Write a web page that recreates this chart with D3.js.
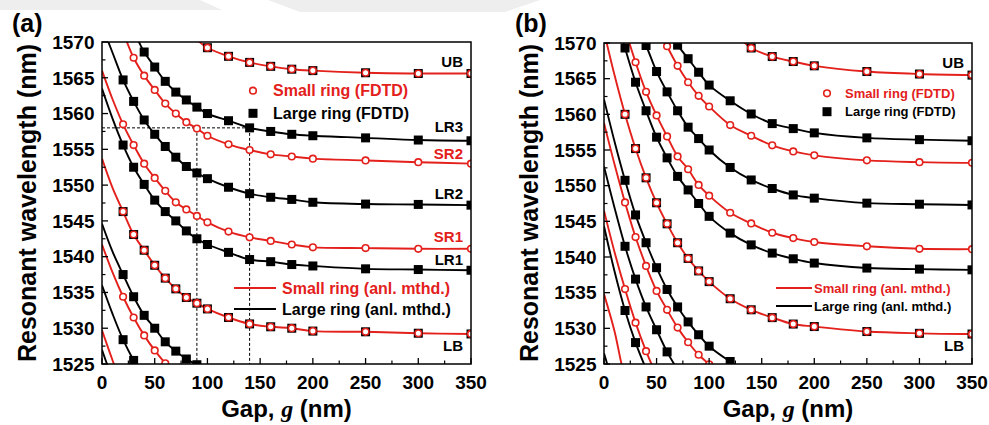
<!DOCTYPE html>
<html><head><meta charset="utf-8">
<script src="https://cdn.jsdelivr.net/npm/d3@7"></script>
<style>
body{margin:0;background:#fff}
svg{display:block}
text{font-family:"Liberation Sans",Arial,sans-serif;font-weight:bold}
</style>
</head><body>
<svg id="chart" width="989" height="425"></svg>
<script>
const RED = "#e3201b";
const xTicks = [0, 50, 100, 150, 200, 250, 300, 350];
const yTicks = [1525, 1530, 1535, 1540, 1545, 1550, 1555, 1560, 1565, 1570];
const xLabel = "Gap, ";
const yLabel = "Resonant wavelength (nm)";

// ---- Panel (a) ----  [gap nm, wavelength nm]
const a_UB_head = [[80, 1571.6], [90, 1570.3]];
const a_UB_pts = [[100, 1569.2], [120, 1568.0], [140, 1567.15], [160, 1566.6], [180, 1566.2], [200, 1566.0], [250, 1565.7], [300, 1565.6], [350, 1565.6]];
const a_LR3_head = [[30, 1571.3], [35, 1570.0]];
const a_LR3_pts = [[40, 1568.6], [50, 1566.5], [60, 1564.5], [70, 1563.0], [80, 1561.9], [90, 1560.9], [100, 1560.0], [120, 1559.0], [140, 1558.0], [160, 1557.5], [180, 1557.1], [200, 1556.9], [250, 1556.6], [300, 1556.3], [350, 1556.2]];
const a_SR2_head = [[20, 1571.4]];
const a_SR2_pts = [[30, 1567.8], [40, 1565.3], [50, 1563.3], [60, 1561.4], [70, 1560.0], [80, 1558.8], [90, 1557.9], [100, 1556.9], [120, 1555.7], [140, 1554.9], [160, 1554.3], [180, 1554.0], [200, 1553.7], [250, 1553.45], [300, 1553.2], [350, 1553.0]];
const a_LR2_head = [[0, 1572.3], [10, 1568.5]];
const a_LR2_pts = [[20, 1564.7], [30, 1561.7], [40, 1559.1], [50, 1557.1], [60, 1555.4], [70, 1553.9], [80, 1552.6], [90, 1551.7], [100, 1550.9], [120, 1549.7], [140, 1548.8], [160, 1548.3], [180, 1548.0], [200, 1547.6], [250, 1547.35], [300, 1547.3], [350, 1547.2]];
const a_SR1_head = [[0, 1566.0], [10, 1562.0]];
const a_SR1_pts = [[20, 1558.5], [30, 1555.6], [40, 1553.0], [50, 1551.0], [60, 1549.2], [70, 1547.6], [80, 1546.6], [90, 1545.7], [100, 1544.8], [120, 1543.5], [140, 1542.7], [160, 1542.2], [180, 1541.7], [200, 1541.3], [250, 1541.2], [300, 1541.1], [350, 1541.1]];
const a_LR1_head = [[0, 1563.5], [10, 1559.3]];
const a_LR1_pts = [[20, 1555.6], [30, 1552.5], [40, 1550.1], [50, 1547.9], [60, 1546.3], [70, 1545.0], [80, 1543.6], [90, 1542.5], [100, 1541.7], [120, 1540.6], [140, 1539.6], [160, 1539.3], [180, 1538.9], [200, 1538.7], [250, 1538.3], [300, 1538.2], [350, 1538.1]];
const a_LB_head = [[0, 1553.7], [10, 1549.6]];
const a_LB_pts = [[20, 1546.3], [30, 1543.1], [40, 1540.9], [50, 1538.8], [60, 1537.0], [70, 1535.5], [80, 1534.3], [90, 1533.5], [100, 1532.7], [120, 1531.5], [140, 1530.6], [160, 1530.2], [180, 1530.0], [200, 1529.6], [250, 1529.5], [300, 1529.3], [350, 1529.2]];
const a_L0_head = [[0, 1544.6], [10, 1540.7]];
const a_L0_pts = [[20, 1537.5], [30, 1534.4], [40, 1531.8], [50, 1530.0], [60, 1528.1], [70, 1526.8], [80, 1525.7], [90, 1524.9]];
const a_L0_tail = [[100, 1524.0]];
const a_S0_head = [[0, 1541.7], [10, 1537.8]];
const a_S0_pts = [[20, 1534.4], [30, 1531.5], [40, 1529.0], [50, 1526.9], [60, 1525.1]];
const a_S0_tail = [[70, 1523.5]];
const a_L1_head = [[0, 1536.0], [10, 1532.0]];
const a_L1_pts = [[20, 1528.4], [30, 1525.5]];
const a_L1_tail = [[40, 1523.0]];
const a_S1_line = [[0, 1529.7], [11, 1525.1], [20, 1521.5]];
const a_L2_line = [[0, 1527.0], [4.5, 1525.1], [10, 1523.0]];
const a_curveLabels = [["UB", 1567.25, "k"], ["LR3", 1558.15, "k"], ["SR2", 1554.45, "r"], ["LR2", 1548.75, "k"], ["SR1", 1542.8, "r"], ["LR1", 1539.55, "k"], ["LB", 1527.56, "k"]];

// ---- Panel (b) ----
const b_UB_head = [[120, 1571.5], [134, 1570.0]];
const b_UB_pts = [[140, 1569.3], [160, 1568.1], [180, 1567.4], [200, 1566.8], [250, 1566.0], [300, 1565.65], [350, 1565.5]];
const b_LR3_head = [[60, 1571.8]];
const b_LR3_pts = [[70, 1569.7], [80, 1567.8], [90, 1565.9], [100, 1564.1], [120, 1561.9], [140, 1560.05], [160, 1558.7], [180, 1558.0], [200, 1557.4], [250, 1556.7], [300, 1556.45], [350, 1556.3]];
const b_SR2_head = [[50, 1572.6]];
const b_SR2_pts = [[60, 1569.55], [70, 1566.8], [80, 1564.5], [90, 1562.6], [100, 1561.1], [120, 1558.5], [140, 1557.0], [160, 1555.65], [180, 1554.8], [200, 1554.25], [250, 1553.55], [300, 1553.3], [350, 1553.2]];
const b_LR2_head = [[30, 1572.8]];
const b_LR2_pts = [[40, 1569.65], [50, 1566.0], [60, 1563.15], [70, 1560.5], [80, 1558.2], [90, 1556.6], [100, 1555.0], [120, 1552.55], [140, 1550.8], [160, 1549.6], [180, 1548.7], [200, 1548.25], [250, 1547.55], [300, 1547.4], [350, 1547.3]];
const b_SR1_head = [[20, 1572.0]];
const b_SR1_pts = [[30, 1567.3], [40, 1563.15], [50, 1559.85], [60, 1556.9], [70, 1554.1], [80, 1552.3], [90, 1550.1], [100, 1548.6], [120, 1546.2], [140, 1544.7], [160, 1543.4], [180, 1542.65], [200, 1542.1], [250, 1541.5], [300, 1541.15], [350, 1541.1]];
const b_LR1_head = [[10, 1574.5]];
const b_LR1_pts = [[20, 1569.3], [30, 1564.5], [40, 1560.5], [50, 1556.8], [60, 1553.9], [70, 1551.3], [80, 1549.4], [90, 1547.5], [100, 1545.7], [120, 1543.35], [140, 1541.7], [160, 1540.55], [180, 1539.75], [200, 1539.15], [250, 1538.45], [300, 1538.3], [350, 1538.2]];
const b_LB_head = [[0, 1571.6], [10, 1565.5]];
const b_LB_pts = [[20, 1560.0], [30, 1555.2], [40, 1551.1], [50, 1547.6], [60, 1544.65], [70, 1542.0], [80, 1539.8], [90, 1538.05], [100, 1536.55], [120, 1534.15], [140, 1532.6], [160, 1531.5], [180, 1530.6], [200, 1530.25], [250, 1529.55], [300, 1529.3], [350, 1529.2]];
const b_L0_head = [[0, 1562.1], [10, 1556.2]];
const b_L0_pts = [[20, 1550.75], [30, 1545.9], [40, 1542.0], [50, 1538.5], [60, 1535.45], [70, 1533.0], [80, 1530.9], [90, 1529.1], [100, 1527.5], [120, 1525.35]];
const b_L0_tail = [[140, 1523.6]];
const b_S0_head = [[0, 1558.8], [10, 1553.0]];
const b_S0_pts = [[20, 1547.65], [30, 1542.8], [40, 1538.75], [50, 1535.25], [60, 1532.6], [70, 1530.1], [80, 1528.05], [90, 1526.3], [100, 1524.95]];
const b_S0_tail = [[110, 1523.5]];
const b_L1_head = [[0, 1552.7], [10, 1546.9]];
const b_L1_pts = [[20, 1541.5], [30, 1536.9], [40, 1533.0], [50, 1529.8], [60, 1526.7]];
const b_L1_tail = [[70, 1524.2]];
const b_S1_head = [[0, 1546.5], [10, 1540.7]];
const b_S1_pts = [[20, 1535.5], [30, 1530.8], [40, 1526.8]];
const b_S1_tail = [[50, 1523.4]];
const b_L2_head = [[0, 1544.3], [10, 1538.0]];
const b_L2_pts = [[20, 1532.5], [30, 1528.0]];
const b_L2_tail = [[40, 1524.3]];
const b_S2_line = [[0, 1534.8], [10, 1529.6], [16.5, 1525.1], [25, 1520.0]];
const b_L3_line = [[0, 1526.5], [3, 1525.0], [8, 1522.0]];
const b_curveLabels = [["UB", 1567.24, "k"], ["LB", 1527.57, "k"]];

const legendFDTD = ["Small ring (FDTD)", "Large ring (FDTD)"];
const legendAnl = ["Small ring (anl. mthd.)", "Large ring (anl. mthd.)"];

function C(color, mark, head, pts, tail) { return {color, mark, head: head || [], pts: pts || [], tail: tail || []}; }

const panels = [
  {
    id: "a", x0: 102, x1: 471, y0: 42, y1: 364, tag: "(a)", tagX: 12,
    curves: [
      C("r", "both", a_UB_head, a_UB_pts), C("k", "sq", a_LR3_head, a_LR3_pts), C("r", "ci", a_SR2_head, a_SR2_pts),
      C("k", "sq", a_LR2_head, a_LR2_pts), C("r", "ci", a_SR1_head, a_SR1_pts), C("k", "sq", a_LR1_head, a_LR1_pts),
      C("r", "both", a_LB_head, a_LB_pts), C("k", "sq", a_L0_head, a_L0_pts, a_L0_tail), C("r", "ci", a_S0_head, a_S0_pts, a_S0_tail),
      C("k", "sq", a_L1_head, a_L1_pts, a_L1_tail), C("r", "none", a_S1_line), C("k", "none", a_L2_line)
    ],
    labels: a_curveLabels, labelX: 463,
    dashed: true,
    leg1: {mx: 253, y1: 90.7, y2: 113.3, tx: 273, fs: 16},
    leg2: {lx0: 234, lx1: 276, y1: 288, y2: 309, tx: 282, fs: 16}
  },
  {
    id: "b", x0: 604, x1: 972, y0: 43, y1: 364, tag: "(b)", tagX: 515,
    curves: [
      C("r", "both", b_UB_head, b_UB_pts), C("k", "sq", b_LR3_head, b_LR3_pts), C("r", "ci", b_SR2_head, b_SR2_pts),
      C("k", "sq", b_LR2_head, b_LR2_pts), C("r", "ci", b_SR1_head, b_SR1_pts), C("k", "sq", b_LR1_head, b_LR1_pts),
      C("r", "both", b_LB_head, b_LB_pts), C("k", "sq", b_L0_head, b_L0_pts, b_L0_tail), C("r", "ci", b_S0_head, b_S0_pts, b_S0_tail),
      C("k", "sq", b_L1_head, b_L1_pts, b_L1_tail), C("r", "ci", b_S1_head, b_S1_pts, b_S1_tail),
      C("k", "sq", b_L2_head, b_L2_pts, b_L2_tail), C("r", "none", b_S2_line), C("k", "none", b_L3_line)
    ],
    labels: b_curveLabels, labelX: 964,
    dashed: false,
    leg1: {mx: 827, y1: 93.3, y2: 111.7, tx: 845, fs: 13},
    leg2: {lx0: 776, lx1: 812, y1: 288, y2: 306, tx: 814, fs: 13}
  }
];

const svg = d3.select("#chart");
svg.append("rect").attr("width", 989).attr("height", 425).attr("fill", "#fff");
// faint decoration band at the very top
svg.append("path").attr("d", "M0,0H200L222,10H0Z").attr("fill", "#eeeeee");
svg.append("path").attr("d", "M268,0H540L505,12H300Z").attr("fill", "#eeeeee");

const col = c => c === "r" ? RED : "#000";

panels.forEach(p => {
  const x = d3.scaleLinear().domain([0, 350]).range([p.x0, p.x1]);
  const y = d3.scaleLinear().domain([1525, 1570]).range([p.y1, p.y0]);
  const g = svg.append("g");
  const clipId = "clip-" + p.id;
  g.append("clipPath").attr("id", clipId).append("rect")
    .attr("x", p.x0).attr("y", p.y0).attr("width", p.x1 - p.x0).attr("height", p.y1 - p.y0);
  const plot = g.append("g").attr("clip-path", `url(#${clipId})`);

  if (p.dashed) {
    const dl = [[[0, 1558], [140, 1558]], [[90, 1558], [90, 1525]], [[140, 1558], [140, 1525]]];
    dl.forEach(s => plot.append("line")
      .attr("x1", x(s[0][0])).attr("y1", y(s[0][1])).attr("x2", x(s[1][0])).attr("y2", y(s[1][1]))
      .attr("stroke", "#000").attr("stroke-width", 1).attr("stroke-dasharray", "3,2"));
  }

  const line = d3.line().x(d => x(d[0])).y(d => y(d[1])).curve(d3.curveCatmullRom.alpha(0.5));
  p.curves.forEach(c => {
    const all = c.head.concat(c.pts, c.tail);
    plot.append("path").attr("d", line(all)).attr("fill", "none")
      .attr("stroke", col(c.color)).attr("stroke-width", 1.9);
  });
  p.curves.forEach(c => {
    c.pts.forEach(d => {
      const cx = x(d[0]), cy = y(d[1]);
      if (c.mark === "sq" || c.mark === "both") {
        plot.append("rect").attr("x", cx - 4.5).attr("y", cy - 4.5).attr("width", 9).attr("height", 9).attr("fill", "#000");
      }
      if (c.mark === "ci" || c.mark === "both") {
        plot.append("circle").attr("cx", cx).attr("cy", cy).attr("r", 3.3)
          .attr("fill", "#fff").attr("stroke", RED).attr("stroke-width", 1.6);
      }
    });
  });

  // frame
  g.append("rect").attr("x", p.x0).attr("y", p.y0).attr("width", p.x1 - p.x0).attr("height", p.y1 - p.y0)
    .attr("fill", "none").attr("stroke", "#000").attr("stroke-width", 1.5);

  // ticks (inward)
  const xMinor = d3.range(25, 350, 50);
  const yMinor = d3.range(1527.5, 1570, 5);
  xTicks.forEach(t => g.append("line").attr("x1", x(t)).attr("x2", x(t)).attr("y1", p.y1).attr("y2", p.y1 - 6).attr("stroke", "#000").attr("stroke-width", 1.3));
  xMinor.forEach(t => g.append("line").attr("x1", x(t)).attr("x2", x(t)).attr("y1", p.y1).attr("y2", p.y1 - 3.5).attr("stroke", "#000").attr("stroke-width", 1.2));
  yTicks.forEach(t => g.append("line").attr("x1", p.x0).attr("x2", p.x0 + 6).attr("y1", y(t)).attr("y2", y(t)).attr("stroke", "#000").attr("stroke-width", 1.3));
  yMinor.forEach(t => g.append("line").attr("x1", p.x0).attr("x2", p.x0 + 3.5).attr("y1", y(t)).attr("y2", y(t)).attr("stroke", "#000").attr("stroke-width", 1.2));

  xTicks.forEach(t => g.append("text").attr("x", x(t)).attr("y", p.y1 + 24.5).attr("text-anchor", "middle")
    .attr("font-size", 19).text(t));
  yTicks.forEach(t => g.append("text").attr("x", p.x0 - 7.5).attr("y", y(t) + 6.8).attr("text-anchor", "end")
    .attr("font-size", 19).text(t));

  // axis titles
  const xt = g.append("text").attr("x", (p.x0 + p.x1) / 2).attr("y", 417).attr("text-anchor", "middle").attr("font-size", 24);
  xt.append("tspan").text(xLabel);
  xt.append("tspan").attr("font-family", "'Liberation Serif','Times New Roman',serif").attr("font-style", "italic").text("g");
  xt.append("tspan").text(" (nm)");
  g.append("text").attr("transform", `translate(${p.x0 - 75},203) rotate(-90)`).attr("text-anchor", "middle")
    .attr("dominant-baseline", "central").attr("font-size", 25).text(yLabel);

  g.append("text").attr("x", p.tagX).attr("y", 31.5).attr("font-size", 25).text(p.tag);

  // curve labels
  p.labels.forEach(l => g.append("text").attr("x", p.labelX).attr("y", y(l[1]) + 5.3).attr("text-anchor", "end")
    .attr("font-size", 15).attr("fill", col(l[2])).text(l[0]));

  // legend FDTD
  const L1 = p.leg1;
  g.append("circle").attr("cx", L1.mx).attr("cy", L1.y1).attr("r", 3.3).attr("fill", "#fff").attr("stroke", RED).attr("stroke-width", 1.6);
  g.append("text").attr("x", L1.tx).attr("y", L1.y1).attr("dominant-baseline", "central").attr("font-size", L1.fs).attr("fill", RED).text(legendFDTD[0]);
  g.append("rect").attr("x", L1.mx - 4.5).attr("y", L1.y2 - 4.5).attr("width", 9).attr("height", 9).attr("fill", "#000");
  g.append("text").attr("x", L1.tx).attr("y", L1.y2).attr("dominant-baseline", "central").attr("font-size", L1.fs).attr("fill", "#000").text(legendFDTD[1]);
  // legend analytic
  const L2 = p.leg2;
  g.append("line").attr("x1", L2.lx0).attr("x2", L2.lx1).attr("y1", L2.y1).attr("y2", L2.y1).attr("stroke", RED).attr("stroke-width", 1.8);
  g.append("text").attr("x", L2.tx).attr("y", L2.y1).attr("dominant-baseline", "central").attr("font-size", L2.fs).attr("fill", RED).text(legendAnl[0]);
  g.append("line").attr("x1", L2.lx0).attr("x2", L2.lx1).attr("y1", L2.y2).attr("y2", L2.y2).attr("stroke", "#000").attr("stroke-width", 1.8);
  g.append("text").attr("x", L2.tx).attr("y", L2.y2).attr("dominant-baseline", "central").attr("font-size", L2.fs).attr("fill", "#000").text(legendAnl[1]);
});
</script>
</body></html>
